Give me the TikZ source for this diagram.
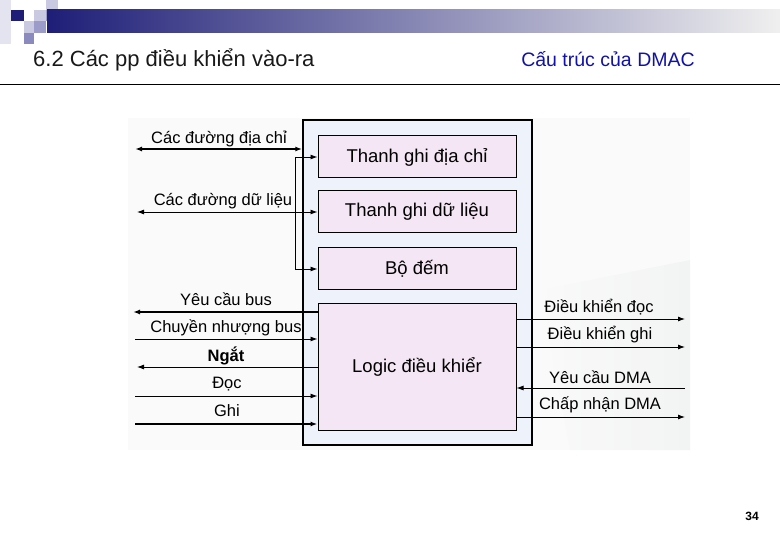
\documentclass[tikz,border=0pt]{standalone}
\usepackage{fontspec}
\setmainfont{Liberation Sans}
\usetikzlibrary{arrows.meta}
\definecolor{navy}{HTML}{1E1E78}
\definecolor{outerfill}{HTML}{EEF2FA}
\definecolor{innerfill}{HTML}{F4E6F4}
\definecolor{titleblue}{HTML}{1212A6}
\definecolor{sqA}{HTML}{C9C9E2}
\definecolor{sqB}{HTML}{9C9CCB}
\definecolor{sqC}{HTML}{8A8ABE}
\definecolor{sqD}{HTML}{E4E4F0}
\tikzset{
  box/.style={draw=black, line width=1pt, fill=innerfill, minimum width=198pt, font=\fontsize{18.5}{20}\selectfont, inner sep=0pt},
  arr/.style={-{Latex[length=7pt,width=5pt]}, line width=0.9pt},
  arrthick/.style={-{Latex[length=7pt,width=5pt]}, line width=2pt},
  dblthin/.style={{Latex[length=7pt,width=5pt]}-{Latex[length=7pt,width=5pt]}, line width=0.9pt},
  dblthick/.style={{Latex[length=7pt,width=5pt]}-{Latex[length=7pt,width=5pt]}, line width=2pt},
  lbl/.style={font=\fontsize{16.5}{18}\selectfont, inner sep=0pt},
}
\begin{document}
\begin{tikzpicture}[x=1pt,y=-1pt]
\useasboundingbox (0,0) rectangle (780,540);
\fill[white] (0,0) rectangle (780,540);
% header decoration
\fill[sqD] (0,0) rectangle (11,44);
\fill[navy] (11,10) rectangle (24,21);
\fill[sqA] (34,10) rectangle (46,21);
\fill[sqB] (46,10) rectangle (58,21);
\fill[sqA] (46,0) rectangle (58,10);
\fill[sqA] (24,21) rectangle (34,33);
\fill[sqB] (34,21) rectangle (46,33);
\fill[sqC] (24,33) rectangle (34,44);
\shade[left color=navy, right color=white!94!black] (47,10) rectangle (780,33);
\node[anchor=west, inner sep=0pt, font=\fontsize{22}{24}\selectfont, text=black!90] (title) at (33,59.5) {6.2 Các pp điều khiển vào-ra};
\node[font=\fontsize{19.5}{21}\selectfont, text=titleblue] (subtitle) at (608,59) {Cấu trúc của DMAC};
\draw[line width=0.8pt] (0,84) -- (780,84);
% diagram background
\fill[black!2] (128,118) rectangle (690,450);
\shade[left color=black!2, right color=cyan!8!black!6, opacity=0.7] (540,290) -- (690,260) -- (690,450) -- (570,450) -- cycle;
% outer box
\node[draw=black, line width=1.5pt, fill=outerfill, minimum width=229pt, minimum height=325pt, inner sep=0pt] (dmac) at (417.5,282.5) {};
% inner boxes
\node[box, minimum height=42pt] (tga) at (417,157) {Thanh ghi địa chỉ};
\node[box, minimum height=42pt] (tgdl) at (417,212) {Thanh ghi dữ liệu};
\node[box, minimum height=42pt] (bd) at (417,269) {Bộ đếm};
\node[box, minimum height=126pt] (logic) at (417,367) {Logic điều khiểr};
% left: address / data
\coordinate (aL) at (135,149);
\draw[dblthick] (aL) -- (aL -| dmac.west);
\node[lbl] (laddr) at (219,139) {Các đường địa chỉ};
\coordinate (br1) at (295,157);
\coordinate (br2) at (295,269);
\draw[line width=0.9pt] (br1) -- (br2);
\draw[arr] (br1) -- (tga.west);
\draw[arr] (br2) -- (bd.west);
\coordinate (dL) at (137,212);
\draw[dblthin] (dL) -- (tgdl.west);
\node[lbl] (ldata) at (223,201) {Các đường dữ liệu};
% left: logic signals
\coordinate (s1) at (133,312);
\coordinate (s2) at (135,339);
\coordinate (s3) at (137,367);
\coordinate (s4) at (135,396);
\coordinate (s5) at (135,424);
\draw[arrthick] (s1 -| logic.west) -- (s1);
\draw[arr] (s2) -- (s2 -| logic.west);
\draw[arr] (s3 -| logic.west) -- (s3);
\draw[arr] (s4) -- (s4 -| logic.west);
\draw[arrthick] (s5) -- (s5 -| logic.west);
\node[lbl] (l1) at (226,299) {Yêu cầu bus};
\node[lbl] (l2) at (226,328) {Chuyền nhượng bus};
\node[lbl, font=\fontsize{16.5}{18}\selectfont\bfseries] (l3) at (226,356) {Ngắt};
\node[lbl] (l4) at (227,384) {Đọc};
\node[lbl] (l5) at (227,411) {Ghi};
% right signals
\coordinate (r1) at (685,319);
\coordinate (r2) at (685,347);
\coordinate (r3) at (685,388);
\coordinate (r4) at (685,417);
\draw[arr] (r1 -| logic.east) -- (r1);
\draw[arr] (r2 -| logic.east) -- (r2);
\draw[arr] (r3) -- (r3 -| logic.east);
\draw[arr] (r4 -| logic.east) -- (r4);
\node[lbl] (m1) at (599,307) {Điều khiển đọc};
\node[lbl] (m2) at (600,335) {Điều khiển ghi};
\node[lbl] (m3) at (600,377) {Yêu cầu DMA};
\node[lbl] (m4) at (600,405) {Chấp nhận DMA};
% page number
\node[font=\fontsize{12}{13}\selectfont\bfseries] (pg) at (752,516) {34};
\end{tikzpicture}
\end{document}
